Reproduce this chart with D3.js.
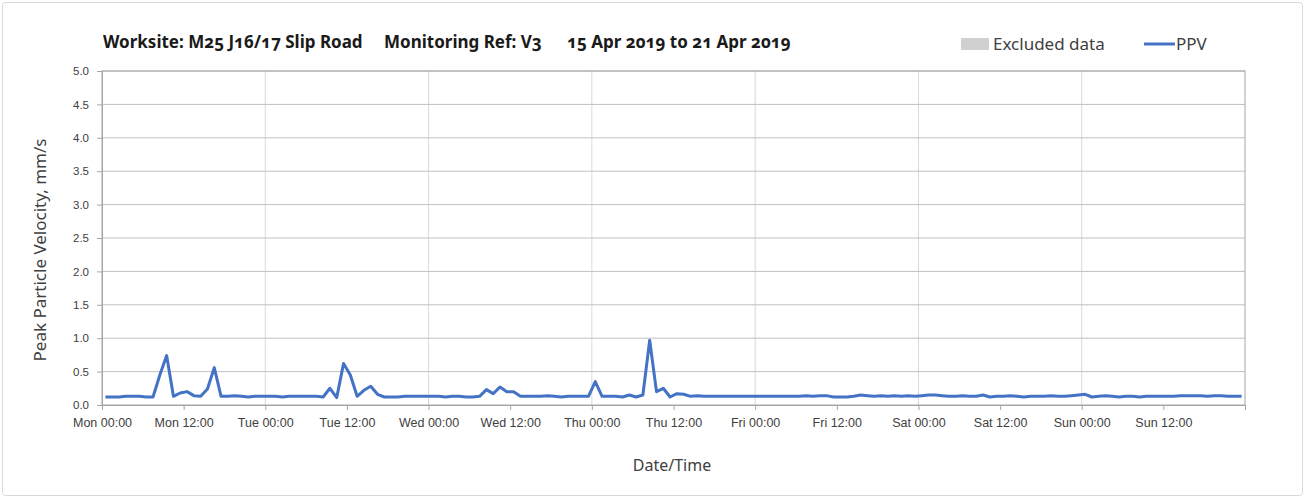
<!DOCTYPE html>
<html>
<head>
<meta charset="utf-8">
<script src="https://cdnjs.cloudflare.com/ajax/libs/d3/7.8.5/d3.min.js"></script>
<style>
  body { margin: 0; background: #fff; }
  svg { display: block; font-family: "Noto Sans", "Lato", sans-serif; }
  .onum { font-variant-numeric: oldstyle-nums; }
</style>
</head>
<body>
<div id="chart"></div>
<script>
// hourly PPV (mm/s), each reading sits at hh:30
const mon = [0.12,0.12,0.12,0.13,0.13,0.13,0.12,0.12,0.45,0.74,0.13,0.18,0.20,0.14,0.13,0.24,0.56,0.13,0.13,0.14,0.13,0.12,0.13,0.13];
const tue = [0.13,0.13,0.12,0.13,0.13,0.13,0.13,0.13,0.12,0.25,0.11,0.62,0.45,0.13,0.22,0.28,0.16,0.12,0.12,0.12,0.13,0.13,0.13,0.13];
const wed = [0.13,0.13,0.12,0.13,0.13,0.12,0.12,0.13,0.23,0.17,0.27,0.20,0.20,0.13,0.13,0.13,0.13,0.14,0.13,0.12,0.13,0.13,0.13,0.13];
const thu = [0.35,0.13,0.13,0.13,0.12,0.15,0.12,0.15,0.97,0.20,0.25,0.12,0.17,0.16,0.13,0.14,0.13,0.13,0.13,0.13,0.13,0.13,0.13,0.13];
const fri = [0.13,0.13,0.13,0.13,0.13,0.13,0.13,0.14,0.13,0.14,0.14,0.12,0.12,0.12,0.13,0.15,0.14,0.13,0.14,0.13,0.14,0.13,0.14,0.13];
const sat = [0.14,0.15,0.15,0.14,0.13,0.13,0.14,0.13,0.13,0.15,0.12,0.13,0.13,0.14,0.13,0.12,0.13,0.13,0.13,0.14,0.13,0.13,0.14,0.15];
const sun = [0.16,0.12,0.13,0.14,0.13,0.12,0.13,0.13,0.12,0.13,0.13,0.13,0.13,0.13,0.14,0.14,0.14,0.14,0.13,0.14,0.14,0.13,0.13,0.13];

const days = [mon, tue, wed, thu, fri, sat, sun];
const yTicks = [0, 0.5, 1, 1.5, 2, 2.5, 3, 3.5, 4, 4.5, 5];
const titleParts = ["Worksite: M25 J16/17 Slip Road", "Monitoring Ref: V3", "15 Apr 2019 to 21 Apr 2019"];
const legendItems = ["Excluded data", "PPV"];

const start = new Date(2019, 3, 15, 0, 0);
const end = new Date(2019, 3, 22, 0, 0);

const data = [];
days.forEach((vals, d) => {
  vals.forEach((v, h) => {
    data.push({ time: new Date(2019, 3, 15 + d, h, 30), ppv: v });
  });
});

const WIDTH = 1309, HEIGHT = 499;
const margin = { top: 71, right: 64, bottom: 94, left: 102 };
const innerW = WIDTH - margin.left - margin.right;
const innerH = HEIGHT - margin.top - margin.bottom;

const svg = d3.select("#chart")
  .append("svg")
  .attr("width", WIDTH)
  .attr("height", HEIGHT);

// outer frame
svg.append("rect")
  .attr("x", 2.5).attr("y", 2.5)
  .attr("width", 1300).attr("height", 493)
  .attr("rx", 3)
  .attr("fill", "#fff")
  .attr("stroke", "#d9d9d9");

const g = svg.append("g").attr("transform", `translate(${margin.left},${margin.top})`);

const x = d3.scaleTime().domain([start, end]).range([0, innerW]);
const y = d3.scaleLinear().domain([0, 5]).range([innerH, 0]);

// vertical grid at midnight
g.append("g")
  .selectAll("line")
  .data(d3.timeDay.range(d3.timeDay.offset(start, 1), end))
  .join("line")
  .attr("x1", d => x(d)).attr("x2", d => x(d))
  .attr("y1", 0).attr("y2", innerH)
  .attr("stroke", "#d9d9d9");

// horizontal grid
g.append("g")
  .selectAll("line")
  .data(yTicks.slice(1))
  .join("line")
  .attr("x1", 0).attr("x2", innerW)
  .attr("y1", d => y(d)).attr("y2", d => y(d))
  .attr("stroke", "#c0c0c0");

// plot border
g.append("rect")
  .attr("width", innerW).attr("height", innerH)
  .attr("fill", "none")
  .attr("stroke", "#a6a6a6");

// y axis
const yAxis = g.append("g")
  .call(d3.axisLeft(y).tickValues(yTicks).tickFormat(d3.format(".1f")).tickSize(5).tickPadding(8))
  .call(a => a.select(".domain").attr("stroke", "#a6a6a6"));
yAxis.selectAll(".tick line").attr("stroke", "#a6a6a6");
yAxis.selectAll("text")
  .attr("class", "onum")
  .style("font-size", "11.5px")
  .style("fill", "#404040");

// x axis
const xAxis = g.append("g")
  .attr("transform", `translate(0,${innerH})`)
  .call(d3.axisBottom(x)
    .ticks(d3.timeHour.every(12))
    .tickSize(5).tickPadding(8)
    .tickFormat(d => +d === +end ? "" : d3.timeFormat("%a %H:%M")(d)))
  .call(a => a.select(".domain").attr("stroke", "#a6a6a6"));
xAxis.selectAll(".tick line").attr("stroke", "#a6a6a6");
xAxis.selectAll("text")
  .attr("class", "onum")
  .style("font-size", "12.5px")
  .style("fill", "#404040");

// PPV line
const line = d3.line()
  .x(d => x(d.time))
  .y(d => y(d.ppv));

g.append("path")
  .datum(data)
  .attr("d", line)
  .attr("fill", "none")
  .attr("stroke", "#4472c4")
  .attr("stroke-width", 3)
  .attr("stroke-linejoin", "round");

// axis titles
svg.append("text")
  .attr("transform", "translate(46,250) rotate(-90)")
  .attr("text-anchor", "middle")
  .style("font-size", "17px")
  .style("fill", "#404040")
  .text("Peak Particle Velocity, mm/s");

svg.append("text")
  .attr("x", 672)
  .attr("y", 471)
  .attr("text-anchor", "middle")
  .style("font-size", "16px")
  .style("fill", "#404040")
  .text("Date/Time");

// title
const titleX = [103, 384, 567];
svg.append("g")
  .selectAll("text")
  .data(titleParts)
  .join("text")
  .attr("class", "onum")
  .attr("x", (d, i) => titleX[i])
  .attr("y", 48)
  .style("font-size", "17px")
  .style("font-weight", "bold")
  .style("fill", "#1a1a1a")
  .text(d => d);

// legend
const legend = svg.append("g");
legend.append("rect")
  .attr("x", 961).attr("y", 38)
  .attr("width", 28).attr("height", 12)
  .attr("fill", "#d0d0d0");
legend.append("text")
  .attr("x", 993).attr("y", 50)
  .style("font-size", "17px")
  .style("fill", "#404040")
  .text(legendItems[0]);
legend.append("line")
  .attr("x1", 1144).attr("x2", 1175)
  .attr("y1", 44).attr("y2", 44)
  .attr("stroke", "#4472c4")
  .attr("stroke-width", 3);
legend.append("text")
  .attr("x", 1176).attr("y", 50)
  .style("font-size", "17px")
  .style("fill", "#404040")
  .text(legendItems[1]);
</script>
</body>
</html>
